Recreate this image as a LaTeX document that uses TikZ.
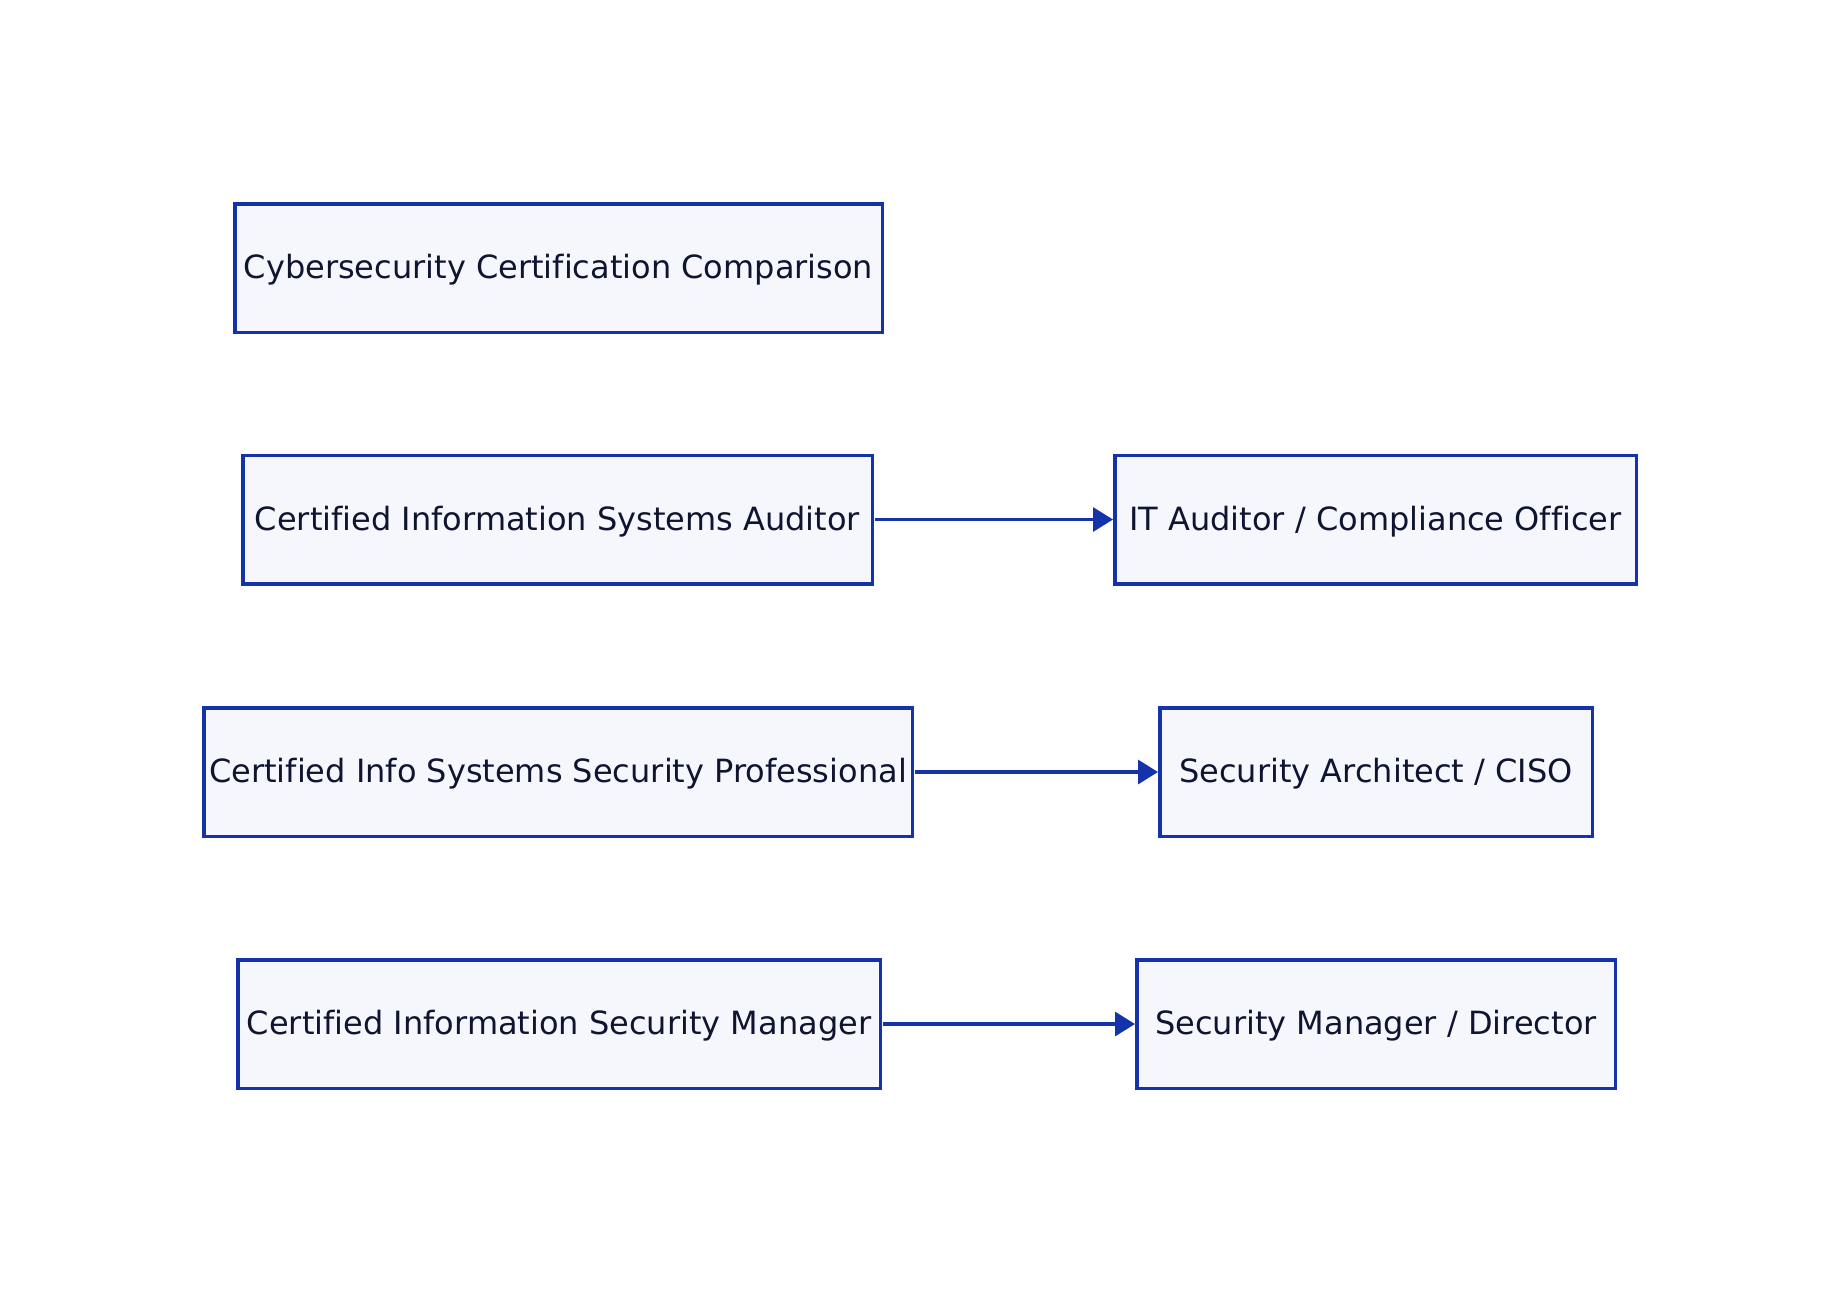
\documentclass[tikz,border=0pt]{standalone}
\usepackage{fontspec}
\setmainfont{DejaVu Sans}[Ligatures=NoCommon]
\usetikzlibrary{arrows.meta}
\definecolor{edgeblue}{RGB}{20,50,170}
\definecolor{boxfill}{RGB}{245,247,253}
\definecolor{txt}{RGB}{15,21,48}
\begin{document}
\begin{tikzpicture}[x=0.5pt,y=-0.5pt,
  box/.style={draw=edgeblue, fill=boxfill, line width=1.75pt, rectangle,
    minimum height=64.25pt, inner sep=0pt, text=txt,
    text height=13.5pt, text depth=2.7pt,
    font=\fontsize{16pt}{19pt}\selectfont},
  conn/.style={draw=edgeblue, line width=1.6pt, shorten <=0.6pt,
    -{Triangle[length=10pt,width=12pt]}}]
\path[use as bounding box] (0,0) rectangle (1840,1292);
\node[box, minimum width=323.75pt] (title) at (558.5,268) {Cybersecurity Certification Comparison};
\node[box, minimum width=314.75pt] (cisa) at (557.5,519.5) {Certified Information Systems Auditor};
\node[box, minimum width=260.75pt] (itaud) at (1375.5,519.5) {IT Auditor / Compliance Officer};
\node[box, minimum width=354.25pt] (cissp) at (558,772) {Certified Info Systems Security Professional};
\node[box, minimum width=216.25pt] (arch) at (1376,772) {Security Architect / CISO};
\node[box, minimum width=321.25pt] (cism) at (559,1024) {Certified Information Security Manager};
\node[box, minimum width=239.25pt] (mgr) at (1376,1024) {Security Manager / Director};
\draw[conn] (cisa) -- (itaud);
\draw[conn] (cissp) -- (arch);
\draw[conn] (cism) -- (mgr);
\end{tikzpicture}
\end{document}
